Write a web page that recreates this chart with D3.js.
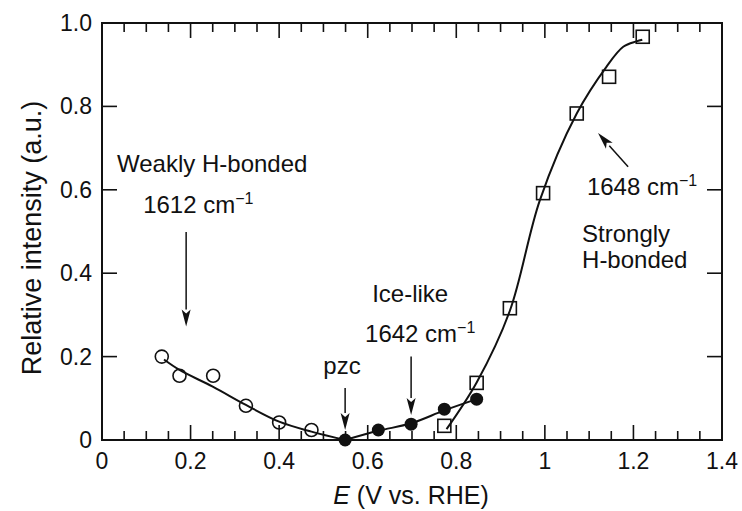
<!DOCTYPE html>
<html>
<head>
<meta charset="utf-8">
<script src="https://cdn.jsdelivr.net/npm/d3@7"></script>
<style>
  html, body { margin: 0; padding: 0; background: #fff; }
  svg text { font-family: "Liberation Sans", Arial, Helvetica, sans-serif; fill: #111; }
</style>
</head>
<body>
<svg id="chart" width="742" height="511"></svg>
<script>
// Measured points: potential E (V vs. RHE) and relative band intensity
const weakE = [0.135, 0.175, 0.251, 0.325, 0.400, 0.473];
const weakI = [0.200, 0.154, 0.154, 0.082, 0.042, 0.024];

const iceE = [0.549, 0.624, 0.698, 0.773, 0.846];
const iceI = [0.000, 0.024, 0.038, 0.074, 0.098];

const strongE = [0.773, 0.846, 0.921, 0.996, 1.072, 1.145, 1.221];
const strongI = [0.034, 0.137, 0.316, 0.592, 0.783, 0.871, 0.967];

// Guide-to-the-eye curves
const weakFitE = [0.140, 0.175, 0.250, 0.325, 0.400, 0.473, 0.549];
const weakFitI = [0.193, 0.168, 0.128, 0.084, 0.044, 0.020, 0.000];

const iceFitE = [0.549, 0.624, 0.698, 0.773, 0.846];
const iceFitI = [0.000, 0.022, 0.040, 0.071, 0.098];

const strongFitE = [0.778, 0.846, 0.921, 0.989, 1.072, 1.139, 1.177, 1.207, 1.220];
const strongFitI = [0.026, 0.138, 0.310, 0.576, 0.783, 0.895, 0.943, 0.956, 0.960];

// Axis ticks
const xMajorTicks = [0, 0.2, 0.4, 0.6, 0.8, 1.0, 1.2, 1.4];
const xTickLabels = ["0", "0.2", "0.4", "0.6", "0.8", "1", "1.2", "1.4"];
const yMajorTicks = [0, 0.2, 0.4, 0.6, 0.8, 1.0];
const yTickLabels = ["0", "0.2", "0.4", "0.6", "0.8", "1.0"];

const W = 742, H = 511;
const margin = { left: 102, right: 20, top: 23, bottom: 71 };

const svg = d3.select("#chart");
const x = d3.scaleLinear().domain([0, 1.4]).range([margin.left, W - margin.right]);
const y = d3.scaleLinear().domain([0, 1.0]).range([H - margin.bottom, margin.top]);

const ink = "#111";
const fontTick = 23, fontNote = 24, fontTitle = 25, fontYTitle = 27;

// Frame
svg.append("rect")
  .attr("x", x(0)).attr("y", y(1))
  .attr("width", x(1.4) - x(0)).attr("height", y(0) - y(1))
  .attr("fill", "none").attr("stroke", ink).attr("stroke-width", 2);

// Inward ticks on all four sides
const xMinor = d3.range(0, 29).map(i => i * 0.05).filter(v => v > 0.001 && v < 1.399);
const isMajorX = v => Math.abs(v / 0.2 - Math.round(v / 0.2)) < 1e-6;
const gTicks = svg.append("g");

xMinor.forEach(v => {
  const len = isMajorX(v) ? 15 : 9;
  gTicks.append("line").attr("x1", x(v)).attr("x2", x(v))
    .attr("y1", y(0)).attr("y2", y(0) - len).attr("stroke", ink).attr("stroke-width", 1.6);
  gTicks.append("line").attr("x1", x(v)).attr("x2", x(v))
    .attr("y1", y(1)).attr("y2", y(1) + len).attr("stroke", ink).attr("stroke-width", 1.6);
});
yMajorTicks.filter(v => v > 0 && v < 1).forEach(v => {
  gTicks.append("line").attr("x1", x(0)).attr("x2", x(0) + 15)
    .attr("y1", y(v)).attr("y2", y(v)).attr("stroke", ink).attr("stroke-width", 1.6);
  gTicks.append("line").attr("x1", x(1.4)).attr("x2", x(1.4) - 15)
    .attr("y1", y(v)).attr("y2", y(v)).attr("stroke", ink).attr("stroke-width", 1.6);
});

// Tick labels
svg.append("g").selectAll("text").data(xMajorTicks).join("text")
  .attr("x", d => x(d)).attr("y", y(0) + 29)
  .attr("text-anchor", "middle").attr("font-size", fontTick)
  .text((d, i) => xTickLabels[i]);

svg.append("g").selectAll("text").data(yMajorTicks).join("text")
  .attr("x", x(0) - 10).attr("y", d => y(d) + 8)
  .attr("text-anchor", "end").attr("font-size", fontTick)
  .text((d, i) => yTickLabels[i]);

// Axis titles
const xt = svg.append("text").attr("x", 411).attr("y", 504)
  .attr("text-anchor", "middle").attr("font-size", fontTitle);
xt.append("tspan").attr("font-style", "italic").text("E");
xt.append("tspan").text(" (V vs. RHE)");

svg.append("text")
  .attr("transform", `translate(41,238) rotate(-90)`)
  .attr("text-anchor", "middle").attr("font-size", fontYTitle)
  .text("Relative intensity (a.u.)");

// Curves
const line = d3.line().x(d => x(d[0])).y(d => y(d[1])).curve(d3.curveCatmullRom.alpha(0.5));
const curves = [
  d3.zip(weakFitE, weakFitI),
  d3.zip(iceFitE, iceFitI),
  d3.zip(strongFitE, strongFitI)
];
svg.append("g").selectAll("path").data(curves).join("path")
  .attr("d", line).attr("fill", "none").attr("stroke", ink).attr("stroke-width", 2);

// Markers
svg.append("g").selectAll("circle").data(d3.zip(weakE, weakI)).join("circle")
  .attr("cx", d => x(d[0])).attr("cy", d => y(d[1])).attr("r", 6.5)
  .attr("fill", "none").attr("stroke", ink).attr("stroke-width", 1.6);

svg.append("g").selectAll("rect").data(d3.zip(strongE, strongI)).join("rect")
  .attr("x", d => x(d[0]) - 6.5).attr("y", d => y(d[1]) - 6.5)
  .attr("width", 13).attr("height", 13)
  .attr("fill", "none").attr("stroke", ink).attr("stroke-width", 1.6);

svg.append("g").selectAll("circle").data(d3.zip(iceE, iceI)).join("circle")
  .attr("cx", d => x(d[0])).attr("cy", d => y(d[1])).attr("r", 6.5)
  .attr("fill", ink);

// Annotations: label text with an optional superscript, and straight arrows
function note(ex, iy, main, sup, anchor) {
  const t = svg.append("text").attr("x", x(ex)).attr("y", y(iy))
    .attr("font-size", fontNote).attr("text-anchor", anchor || "start")
    .text(main);
  if (sup) t.append("tspan").attr("font-size", 16).attr("dy", -9).text(sup);
}
function arrow(e0, i0, e1, i1) {
  const x0 = x(e0), y0 = y(i0), x1 = x(e1), y1 = y(i1);
  const ang = Math.atan2(y1 - y0, x1 - x0);
  const hl = 17, hw = 4.5;
  const bx = x1 - hl * Math.cos(ang), by = y1 - hl * Math.sin(ang);
  svg.append("line").attr("x1", x0).attr("y1", y0).attr("x2", bx).attr("y2", by)
    .attr("stroke", ink).attr("stroke-width", 1.5);
  const px = -Math.sin(ang) * hw, py = Math.cos(ang) * hw;
  const nx = x1 - (hl - 4) * Math.cos(ang), ny = y1 - (hl - 4) * Math.sin(ang);
  svg.append("path")
    .attr("d", `M${x1},${y1} L${bx + px},${by + py} L${nx},${ny} L${bx - px},${by - py} Z`)
    .attr("fill", ink);
}

note(0.034, 0.643, "Weakly H-bonded");
note(0.093, 0.544, "1612 cm", "\u22121");
arrow(0.190, 0.499, 0.190, 0.272);

note(0.542, 0.158, "pzc", null, "middle");
arrow(0.549, 0.125, 0.549, 0.024);

note(0.610, 0.330, "Ice-like");
note(0.594, 0.235, "1642 cm", "\u22121");
arrow(0.698, 0.200, 0.698, 0.060);

note(1.084, 0.475, "Strongly");
note(1.084, 0.412, "H-bonded");

note(1.095, 0.588, "1648 cm", "\u22121");
arrow(1.188, 0.655, 1.120, 0.736);
</script>
</body>
</html>
